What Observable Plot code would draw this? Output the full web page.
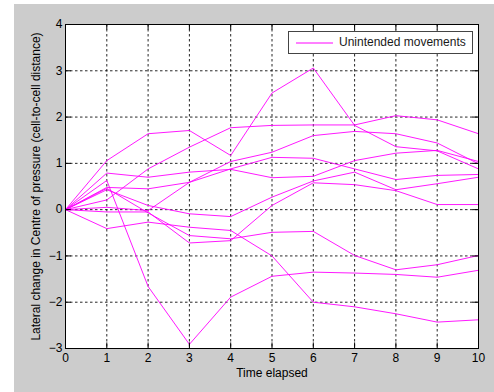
<!DOCTYPE html>
<html>
<head>
<meta charset="utf-8">
<script src="https://cdn.jsdelivr.net/npm/d3@7"></script>
<script src="https://cdn.jsdelivr.net/npm/@observablehq/plot@0.6"></script>
<style>
  html, body { margin: 0; padding: 0; background: #ffffff; }
  #wrap { position: relative; width: 494px; height: 392px; overflow: hidden; background: #ffffff; }
  #bg { position: absolute; left: 14px; top: 4px; width: 480px; height: 388px; background: #cccccc; }
  #chart { position: absolute; left: 0; top: 0; }
  #legend { position: absolute; left: 288px; top: 31px; width: 183px; height: 21px; background: #ffffff;
            border: 1px solid #444; font-family: "Liberation Sans", Arial, sans-serif; font-size: 12px; color: #1a1a1a; }
  #legend svg { position: absolute; left: 7px; top: 10px; }
  #legend span { position: absolute; left: 50px; top: 3px; white-space: nowrap; }
</style>
</head>
<body>
<div id="wrap">
  <div id="bg"></div>
  <div id="chart"></div>
  <div id="legend"><svg width="40" height="2"><line x1="0" y1="1" x2="37" y2="1" stroke="#ff00ff" stroke-width="1"/></svg><span>Unintended movements</span></div>
</div>
<script>
// Time steps (x) and tick labels
const timeSteps = [0, 1, 2, 3, 4, 5, 6, 7, 8, 9, 10];
const xTicks = [0, 1, 2, 3, 4, 5, 6, 7, 8, 9, 10];
const yTicks = [-3, -2, -1, 0, 1, 2, 3, 4];

// Series: lateral change in centre of pressure per run
const run1  = [0, 1.06, 1.64, 1.71, 1.17, 2.52, 3.06, 1.82, 1.36, 1.27, 0.88];
const run2  = [0, 0.21, 0.88, 1.35, 1.77, 1.82, 1.83, 1.83, 2.03, 1.94, 1.64];
const run3  = [0, 0.63, -1.66, -2.91, -1.89, -1.44, -1.35, -1.37, -1.40, -1.46, -1.31];
const run4  = [0, -0.41, -0.27, -0.38, -0.45, -1.00, -2.00, -2.10, -2.25, -2.43, -2.38];
const run5  = [0, 0.46, -0.07, -0.56, -0.63, -0.49, -0.47, -0.99, -1.30, -1.19, -0.99];
const run6  = [0, -0.05, -0.05, -0.72, -0.67, 0.09, 0.58, 0.54, 0.41, 0.11, 0.11];
const run7  = [0, 0.79, 0.70, 0.81, 0.87, 0.69, 0.72, 1.06, 1.22, 1.28, 1.04];
const run8  = [0, 0.48, 0.45, 0.59, 1.04, 1.24, 1.60, 1.69, 1.64, 1.44, 0.99];
const run9  = [0, 0.43, 0.09, -0.09, -0.15, 0.27, 0.62, 0.81, 0.43, 0.56, 0.70];
const run10 = [0, 0.05, -0.02, 0.59, 0.88, 1.13, 1.11, 0.88, 0.65, 0.74, 0.76];

const runs = [run1, run2, run3, run4, run5, run6, run7, run8, run9, run10];
const xLabel = "Time elapsed";
const yLabel = "Lateral change in Centre of pressure (cell-to-cell distance)";
const legendLabel = "Unintended movements";

const rows = runs.flatMap((vals, i) => vals.map((v, j) => ({run: i, t: timeSteps[j], v})));

const [x0, x1] = [xTicks[0], xTicks[xTicks.length - 1]];
const [y0, y1] = [yTicks[0], yTicks[yTicks.length - 1]];
const tickLenY = 0.12; // inward tick length in y units
const tickLenX = 0.14; // inward tick length in x units

const chart = Plot.plot({
  width: 494,
  height: 392,
  marginLeft: 65,
  marginRight: 16,
  marginTop: 24,
  marginBottom: 44,
  x: {domain: [x0, x1]},
  y: {domain: [y0, y1]},
  style: {background: "transparent", fontFamily: "'Liberation Sans', Arial, sans-serif", fontSize: "12px", color: "#000", overflow: "visible"},
  marks: [
    Plot.frame({fill: "white"}),
    Plot.gridX(xTicks, {stroke: "#000", strokeOpacity: 0.85, strokeDasharray: "2.5,2.5"}),
    Plot.gridY(yTicks, {stroke: "#000", strokeOpacity: 0.85, strokeDasharray: "2.5,2.5"}),
    Plot.line(rows, {x: "t", y: "v", z: "run", stroke: "#ff00ff", strokeWidth: 1, strokeOpacity: 0.9}),
    Plot.ruleX(xTicks, {x: d => d, y1: y0, y2: y0 + tickLenY, stroke: "#000"}),
    Plot.ruleX(xTicks, {x: d => d, y1: y1 - tickLenY, y2: y1, stroke: "#000"}),
    Plot.ruleY(yTicks, {y: d => d, x1: x0, x2: x0 + tickLenX, stroke: "#000"}),
    Plot.ruleY(yTicks, {y: d => d, x1: x1 - tickLenX, x2: x1, stroke: "#000"}),
    Plot.frame({stroke: "#000"}),
    Plot.axisX(xTicks, {tickSize: 0, tickPadding: 5, label: null, fill: "#000", fontSize: 12}),
    Plot.axisY(yTicks, {tickSize: 0, tickPadding: 3, label: null, fill: "#000", fontSize: 12}),
    Plot.text([xLabel], {frameAnchor: "bottom", dy: 28, fill: "#000", fontSize: 12}),
    Plot.text([yLabel], {frameAnchor: "left", dx: -29, rotate: -90, textAnchor: "middle", fill: "#000", fontSize: 12})
  ]
});
document.getElementById("chart").appendChild(chart);
document.querySelector("#legend span").textContent = legendLabel;
</script>
</body>
</html>
